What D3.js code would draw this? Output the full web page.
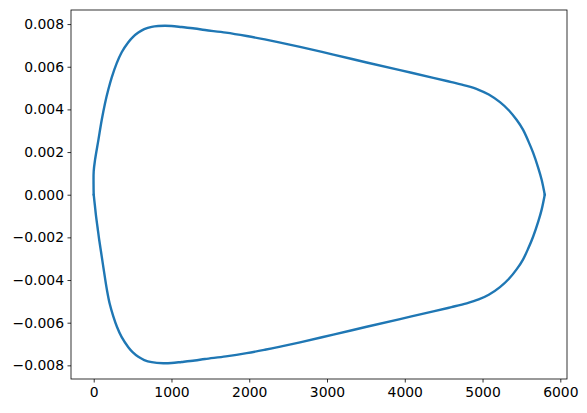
<!DOCTYPE html>
<html>
<head>
<meta charset="utf-8">
<script src="https://cdn.jsdelivr.net/npm/d3@7"></script>
<style>
  html, body { margin: 0; padding: 0; background: #fff; }
  svg { display: block; }
  text { font-family: "DejaVu Sans", sans-serif; font-size: 13.9px; fill: #000; }
</style>
</head>
<body>
<svg id="chart" width="587" height="413"></svg>
<script>
// Upper branch (x, y), left to right
const upperX = [0, -2, 0, 17, 60, 103, 145, 188, 231, 295, 360, 445, 500, 574, 650, 746, 830, 917, 1000, 1131, 1300, 1431, 1700, 1967, 2200, 2400, 2653, 3081, 3510, 3939, 4367, 4600, 4796, 4950, 5080, 5224, 5340, 5440, 5520, 5590, 5650, 5717, 5760, 5800];
const upperY = [0, 0.0005, 0.0011, 0.00163, 0.00256, 0.0035, 0.00428, 0.00493, 0.00549, 0.00616, 0.00668, 0.00715, 0.00738, 0.0076, 0.00776, 0.00787, 0.00791, 0.00792, 0.00791, 0.00786, 0.00779, 0.00772, 0.0076, 0.00744, 0.00728, 0.00713, 0.00693, 0.00657, 0.0062, 0.00584, 0.00548, 0.00528, 0.0051, 0.00492, 0.0047, 0.00434, 0.00395, 0.0035, 0.00305, 0.0025, 0.00197, 0.00125, 0.0007, 0.0];
// Lower branch (x, y), left to right
const lowerX = [0, 15, 30, 50, 70, 95, 120, 145, 172, 205, 252, 300, 360, 445, 500, 574, 650, 746, 895, 1000, 1131, 1300, 1431, 1700, 1967, 2200, 2400, 2653, 3081, 3510, 3939, 4367, 4600, 4796, 4950, 5080, 5224, 5340, 5440, 5520, 5590, 5650, 5717, 5760, 5800];
const lowerY = [0, -0.0005, -0.001, -0.00155, -0.0021, -0.0027, -0.0033, -0.0039, -0.0045, -0.0051, -0.0057, -0.0062, -0.00668, -0.00715, -0.00738, -0.0076, -0.00775, -0.00785, -0.0079, -0.00789, -0.00784, -0.00777, -0.0077, -0.00758, -0.00743, -0.00727, -0.00712, -0.00692, -0.00656, -0.00619, -0.00583, -0.00547, -0.00527, -0.00509, -0.00491, -0.00469, -0.00433, -0.00394, -0.00349, -0.00304, -0.0025, -0.00197, -0.00125, -0.0007, 0.0];
const xTicks = [0, 1000, 2000, 3000, 4000, 5000, 6000];
const yTicks = [-0.008, -0.006, -0.004, -0.002, 0, 0.002, 0.004, 0.006, 0.008];

const svg = d3.select("#chart");
const L = 71, R = 567, T = 10, B = 379;
const x = d3.scaleLinear().domain([-292, 6086]).range([L, R]);
const y = d3.scaleLinear().domain([-0.00864, 0.00866]).range([B, T]);

const upper = upperX.map((v, i) => [v, upperY[i]]);
const lower = lowerX.map((v, i) => [v, lowerY[i]]);

const line = d3.line().x(d => x(d[0])).y(d => y(d[1])).curve(d3.curveCatmullRom.alpha(0.5));

[upper, lower].forEach(branch => {
  svg.append("path")
    .attr("d", line(branch))
    .attr("fill", "none")
    .attr("stroke", "#1f77b4")
    .attr("stroke-width", 2.4)
    .attr("stroke-linejoin", "round")
    .attr("stroke-linecap", "round");
});

const fmt = v => {
  const s = d3.format(".3f")(Math.abs(v));
  return (v < 0 ? "\u2212" : "") + s;
};

const xAxis = d3.axisBottom(x).tickValues(xTicks).tickSize(3.5).tickPadding(3.5).tickFormat(d3.format("d"));
const yAxis = d3.axisLeft(y).tickValues(yTicks).tickSize(3.5).tickPadding(3.5).tickFormat(fmt);

const gx = svg.append("g").attr("transform", `translate(0,${B})`).call(xAxis);
const gy = svg.append("g").attr("transform", `translate(${L},0)`).call(yAxis);
[gx, gy].forEach(g => {
  g.select(".domain").remove();
  g.selectAll(".tick line").attr("stroke", "#000").attr("stroke-width", 0.8);
  g.selectAll(".tick text").attr("font-family", "DejaVu Sans, sans-serif").attr("font-size", "13.9px").attr("fill", "#000");
});
gx.selectAll(".tick text").attr("dy", "0.76em");

svg.append("rect")
  .attr("x", L).attr("y", T).attr("width", R - L).attr("height", B - T)
  .attr("fill", "none").attr("stroke", "#000").attr("stroke-width", 0.8);
</script>
</body>
</html>
